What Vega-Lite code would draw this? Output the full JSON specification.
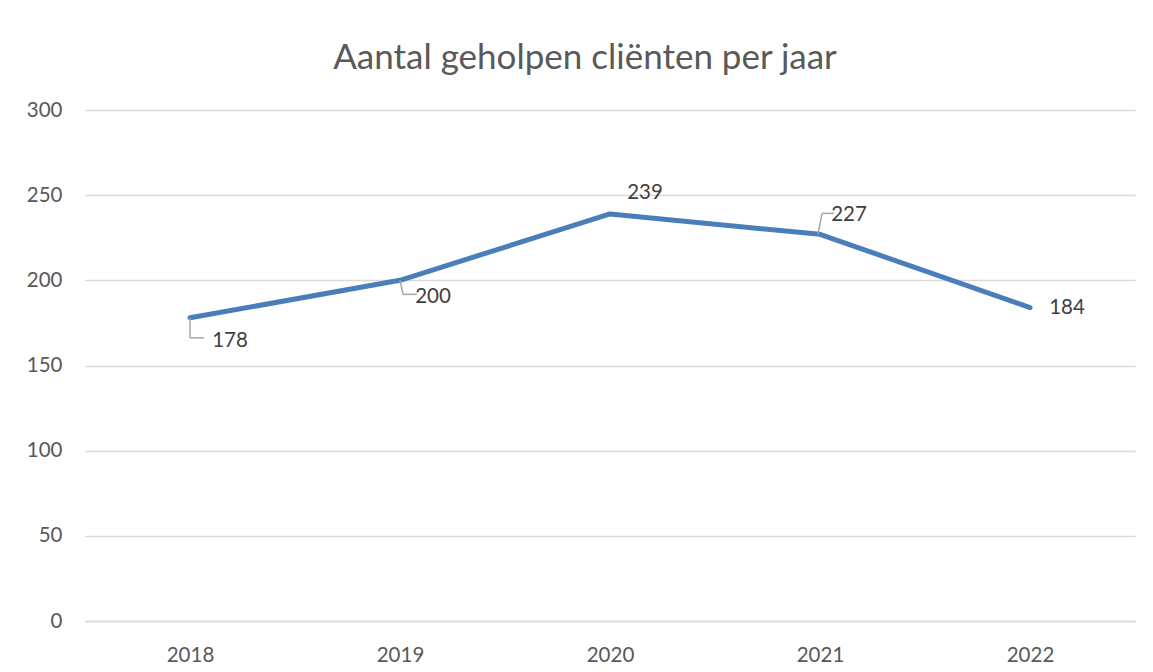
{
  "$schema": "https://vega.github.io/schema/vega-lite/v6.json",
  "autosize": {"type": "none"},
  "width": 1050,
  "height": 511,
  "padding": {"left": 85, "top": 110, "right": 18, "bottom": 51},
  "background": "white",
  "title": {
    "text": "Aantal geholpen cliënten per jaar",
    "font": "Lato",
    "fontSize": 35,
    "fontWeight": "normal",
    "color": "#595959",
    "anchor": "middle",
    "dx": -25,
    "offset": 24
  },
  "data": {
    "values": [
      {"jaar": "2018", "clienten": 178},
      {"jaar": "2019", "clienten": 200},
      {"jaar": "2020", "clienten": 239},
      {"jaar": "2021", "clienten": 227},
      {"jaar": "2022", "clienten": 184}
    ]
  },
  "encoding": {
    "x": {
      "field": "jaar",
      "type": "ordinal",
      "scale": {"type": "point", "padding": 0.5},
      "axis": {
        "title": null,
        "labelAngle": 0,
        "ticks": false,
        "domain": true,
        "domainColor": "#d9d9d9",
        "domainWidth": 1.3,
        "grid": false,
        "labelFont": "Lato",
        "labelFontSize": 20.5,
        "labelColor": "#595959",
        "labelPadding": 24
      }
    },
    "y": {
      "field": "clienten",
      "type": "quantitative",
      "scale": {"domain": [0, 300]},
      "axis": {
        "title": null,
        "values": [0, 50, 100, 150, 200, 250, 300],
        "ticks": false,
        "domain": false,
        "grid": true,
        "gridColor": "#d9d9d9",
        "gridWidth": 1.3,
        "labelFont": "Lato",
        "labelFontSize": 20.5,
        "labelColor": "#595959",
        "labelPadding": 23
      }
    }
  },
  "layer": [
    {
      "mark": {"type": "line", "color": "#4a7ebb", "strokeWidth": 5, "strokeCap": "round", "strokeJoin": "round"}
    },
    {
      "transform": [{"filter": "datum.jaar == '2018'"}],
      "mark": {"type": "rule", "color": "#a6a6a6", "strokeWidth": 1.5, "y2Offset": 20},
      "encoding": {"x2": {"field": "jaar"}, "y2": {"field": "clienten"}}
    },
    {
      "transform": [{"filter": "datum.jaar == '2018'"}],
      "mark": {"type": "rule", "color": "#a6a6a6", "strokeWidth": 1.5, "yOffset": 20, "y2Offset": 20, "x2Offset": 14},
      "encoding": {"x2": {"field": "jaar"}, "y2": {"field": "clienten"}}
    },
    {
      "transform": [{"filter": "datum.jaar == '2019'"}],
      "mark": {"type": "rule", "color": "#a6a6a6", "strokeWidth": 1.5, "x2Offset": 3, "y2Offset": 14},
      "encoding": {"x2": {"field": "jaar"}, "y2": {"field": "clienten"}}
    },
    {
      "transform": [{"filter": "datum.jaar == '2019'"}],
      "mark": {"type": "rule", "color": "#a6a6a6", "strokeWidth": 1.5, "xOffset": 3, "yOffset": 14, "x2Offset": 17, "y2Offset": 14},
      "encoding": {"x2": {"field": "jaar"}, "y2": {"field": "clienten"}}
    },
    {
      "transform": [{"filter": "datum.jaar == '2021'"}],
      "mark": {"type": "rule", "color": "#a6a6a6", "strokeWidth": 1.5, "xOffset": -2, "x2Offset": 2, "y2Offset": -21},
      "encoding": {"x2": {"field": "jaar"}, "y2": {"field": "clienten"}}
    },
    {
      "transform": [{"filter": "datum.jaar == '2021'"}],
      "mark": {"type": "rule", "color": "#a6a6a6", "strokeWidth": 1.5, "xOffset": 2, "yOffset": -21, "x2Offset": 14, "y2Offset": -21},
      "encoding": {"x2": {"field": "jaar"}, "y2": {"field": "clienten"}}
    },
    {
      "transform": [{"filter": "datum.jaar == '2018'"}],
      "mark": {"type": "text", "font": "Lato", "fontSize": 20.5, "color": "#404040", "align": "center", "baseline": "middle", "dx": 40, "dy": 23},
      "encoding": {"text": {"field": "clienten"}}
    },
    {
      "transform": [{"filter": "datum.jaar == '2019'"}],
      "mark": {"type": "text", "font": "Lato", "fontSize": 20.5, "color": "#404040", "align": "center", "baseline": "middle", "dx": 33, "dy": 17},
      "encoding": {"text": {"field": "clienten"}}
    },
    {
      "transform": [{"filter": "datum.jaar == '2020'"}],
      "mark": {"type": "text", "font": "Lato", "fontSize": 20.5, "color": "#404040", "align": "center", "baseline": "middle", "dx": 35, "dy": -21},
      "encoding": {"text": {"field": "clienten"}}
    },
    {
      "transform": [{"filter": "datum.jaar == '2021'"}],
      "mark": {"type": "text", "font": "Lato", "fontSize": 20.5, "color": "#404040", "align": "center", "baseline": "middle", "dx": 29, "dy": -19},
      "encoding": {"text": {"field": "clienten"}}
    },
    {
      "transform": [{"filter": "datum.jaar == '2022'"}],
      "mark": {"type": "text", "font": "Lato", "fontSize": 20.5, "color": "#404040", "align": "center", "baseline": "middle", "dx": 37, "dy": 0},
      "encoding": {"text": {"field": "clienten"}}
    }
  ],
  "config": {"view": {"stroke": null}}
}
